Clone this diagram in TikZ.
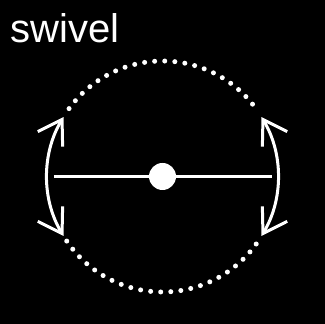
\documentclass[tikz,border=0pt]{standalone}
\usepackage{fontspec}
\setmainfont{Liberation Sans}
\usepackage{tikz}
\usetikzlibrary{arrows.meta}
\tikzset{
  bar/.style={draw=white, line width=3.5pt},
  swing/.style={draw=white, line width=3pt,
                {Straight Barb[length=23pt,width=29pt]}-{Straight Barb[length=23pt,width=29pt]}},
  track/.style={draw=white, line width=5pt, line cap=round, dash pattern=on 0pt off 10.1pt},
  pivot/.style={circle, fill=white, minimum size=27pt, inner sep=0pt},
  lab/.style={text=white, font=\fontsize{40}{44}\selectfont, inner sep=0pt, anchor=base west},
}

\begin{document}
\begin{tikzpicture}[x=1pt,y=1pt]
  \fill[black] (0,0) rectangle (325,324);
  \coordinate (c) at (162.5,147.5);
  \node[lab] (title) at (10.5,281.3) {swivel};
  \coordinate (barl) at (54,147.5);
  \coordinate (barr) at (272,147.5);
  \draw[bar] (barl) -- (barr);
  \node[pivot] (pivot) at (c) {};
  % dotted track of the swing
  \draw[track] ([shift={(144:115.5)}]c) arc[start angle=144, end angle=34, radius=115.5];
  \draw[track] ([shift={(214:115.5)}]c) arc[start angle=214, end angle=326, radius=115.5];
  % swing arrows
  \draw[swing] ([shift={(149:115.5)}]c) arc[start angle=149, end angle=211, radius=115.5];
  \draw[swing] ([shift={(31:115.5)}]c) arc[start angle=31, end angle=-31, radius=115.5];
\end{tikzpicture}
\end{document}
